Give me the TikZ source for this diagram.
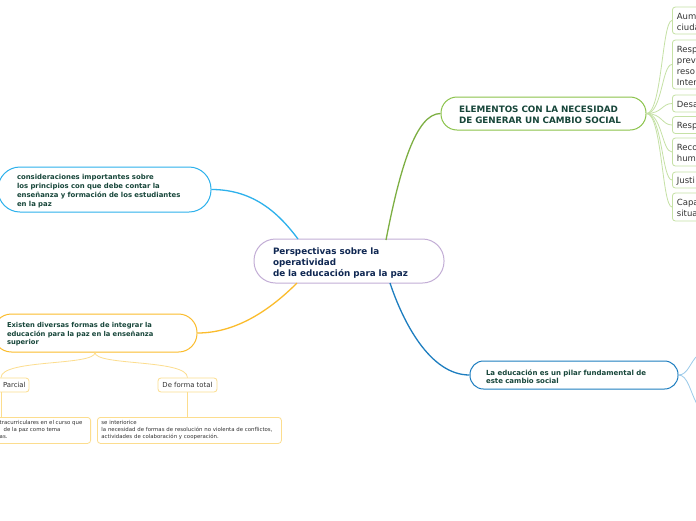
\documentclass[tikz,border=0pt]{standalone}
\usepackage{fontspec}
\setmainfont{DejaVu Sans}
\usetikzlibrary{calc}
\definecolor{cpurple}{HTML}{C3AED6}
\definecolor{cgreen}{HTML}{8BC34A}
\definecolor{cgreenl}{HTML}{C5E1A5}
\definecolor{cblue}{HTML}{2DB1EC}
\definecolor{corange}{HTML}{FBBC2C}
\definecolor{corangel}{HTML}{FCDD8E}
\definecolor{cdblue}{HTML}{1E7EC0}
\definecolor{cdbluel}{HTML}{9CCBEA}
\definecolor{cnavy}{HTML}{0F2752}
\definecolor{cdgreen}{HTML}{17463A}
\definecolor{ctext}{HTML}{333333}
\tikzset{
  pill/.style={draw, line width=1pt, fill=white, align=left, inner ysep=0pt, text=cdgreen},
  lower/.style={execute at begin node={\rule{0pt}{#1}}},
  leaf/.style={draw=cgreenl, line width=0.8pt, fill=white, rounded corners=3pt, anchor=west,
    minimum width=100pt, text width=91pt, inner xsep=4.5pt, inner ysep=0pt, align=left, text=ctext,
    font=\fontsize{8.5}{11}\selectfont, lower=8.6pt},
  obox/.style={draw=corangel, line width=0.8pt, fill=white, rounded corners=3pt, inner ysep=0pt, text=ctext},
  link/.style={line width=1.3pt},
  sublink/.style={line width=0.8pt},
  tiny/.style={font=\fontsize{5.4}{7}\selectfont, text=ctext, inner sep=0pt}
}
\begin{document}
\begin{tikzpicture}[x=1pt,y=-1pt]
\useasboundingbox[fill=white] (0,0) rectangle (696,520);

% connector ends on the central node
\coordinate (cg) at (386,240);
\coordinate (cb) at (298,239);
\coordinate (co) at (297,283);
\coordinate (cd) at (390,283);

% nodes
\node[pill, draw=cpurple, text=cnavy, minimum height=44pt, text width=152pt, inner xsep=19pt,
  rounded corners=21.5pt, lower=11pt, font=\bfseries\fontsize{8.8}{11}\selectfont] (center) at (349,261)
  {Perspectivas sobre la\\operatividad\\de la educación para la paz};

\node[pill, draw=cgreen, minimum height=33pt, text width=169pt, inner xsep=18pt,
  rounded corners=16pt, lower=9.8pt, font=\bfseries\fontsize{8.8}{11}\selectfont] (green) at (543.5,113.5)
  {ELEMENTOS CON LA NECESIDAD\\DE GENERAR UN CAMBIO SOCIAL};

\node[pill, draw=cblue, minimum height=45pt, text width=175pt, inner xsep=19pt,
  rounded corners=22pt, lower=9.2pt, font=\bfseries\fontsize{6.9}{9}\selectfont] (cons) at (104.5,189.5)
  {consideraciones importantes sobre\\los principios con que debe contar la\\enseñanza y formación de los estudiantes\\en la paz};

\node[pill, draw=corange, minimum height=38pt, text width=176pt, inner xsep=14pt,
  rounded corners=18.5pt, lower=8.2pt, font=\bfseries\fontsize{6.75}{8.5}\selectfont] (existen) at (95,333)
  {Existen diversas formas de integrar la\\educación para la paz en la enseñanza\\superior};

\node[pill, draw=cdblue, minimum height=28pt, text width=176pt, inner xsep=16pt,
  rounded corners=13.5pt, lower=8.4pt, font=\bfseries\fontsize{7}{7.7}\selectfont] (edu) at (574,375)
  {La educación es un pilar fundamental de\\este cambio social};

\draw[link, draw=cgreen!90!black] (cg) .. controls (400,168) and (416,113.5) .. (green.west);
\draw[link, draw=cblue] (cons.east) .. controls (255,189.5) and (280,215) .. (cb);
\draw[link, draw=corange] (existen.east) .. controls (240,333) and (275,305) .. (co);
\draw[link, draw=cdblue] (cd) .. controls (403,322) and (430,375) .. (edu.west);

% green leaves
\node[leaf, minimum height=27pt] (g1) at (672,20.5) {Aum\\ciuda};
\node[leaf, minimum height=49pt] (g2) at (672,64.5) {Resp\\prev\\reso\\Inter};
\node[leaf, minimum height=17pt] (g3) at (672,103.5) {Desa};
\node[leaf, minimum height=17pt] (g4) at (672,125) {Resp};
\node[leaf, minimum height=28pt] (g5) at (672,152) {Reco\\hum};
\node[leaf, minimum height=16pt] (g6) at (672,180) {Justi};
\node[leaf, minimum height=28pt] (g7) at (672,207) {Capa\\situa};
\foreach \g in {g1,g2,g3,g4,g5,g6,g7}{
  \draw[sublink, draw=cgreenl] (green.east) .. controls (662,113.5) and (662,0 |- \g.west) .. (\g.west);
}

% blue sub-branches going off the page
\coordinate (e1) at (698,355);
\coordinate (e2) at (698,406);
\draw[sublink, draw=cdbluel] (edu.east) .. controls (688,375) and (690,362) .. (e1);
\draw[sublink, draw=cdbluel] (edu.east) .. controls (688,375) and (690,392) .. (e2);

% orange children
\node[obox, minimum width=56pt, minimum height=14pt] (parcial) at (1,385) {};
\node[anchor=west, inner sep=0pt, text=ctext, font=\fontsize{6.9}{8}\selectfont] (ptxt) at (2.8,385) {Parcial};
\node[obox, minimum height=14pt, inner xsep=4.5pt, font=\fontsize{6.9}{8}\selectfont] (total) at (187.5,385) {De forma total};
\draw[sublink, draw=corangel] (existen.south) .. controls (95,366) and (1,359) .. (parcial.north);
\draw[sublink, draw=corangel] (existen.south) .. controls (95,366) and (187.5,359) .. (total.north);

\node[obox, anchor=north east, minimum width=150pt, minimum height=26pt] (lbox) at (91,417) {};
\node[tiny, anchor=west] (l1) at (-0.5,423.5) {tracurriculares en el curso que};
\node[tiny, anchor=west] (l2) at (3.5,430.5) {de la paz como tema};
\node[tiny, anchor=west] (l3) at (-0.5,437.5) {as.};

\node[obox, anchor=north west, minimum width=184pt, minimum height=26pt, text width=176pt,
  inner xsep=4pt, align=left, font=\fontsize{5.4}{7}\selectfont] (rbox) at (97,417)
  {se interiorice\\la necesidad de formas de resolución no violenta de conflictos,\\actividades de colaboración y cooperación.};

\draw[sublink, draw=corangel] (parcial.south) -- (parcial.south |- lbox.north);
\draw[sublink, draw=corangel] (total.south) -- (total.south |- rbox.north);
\end{tikzpicture}
\end{document}
